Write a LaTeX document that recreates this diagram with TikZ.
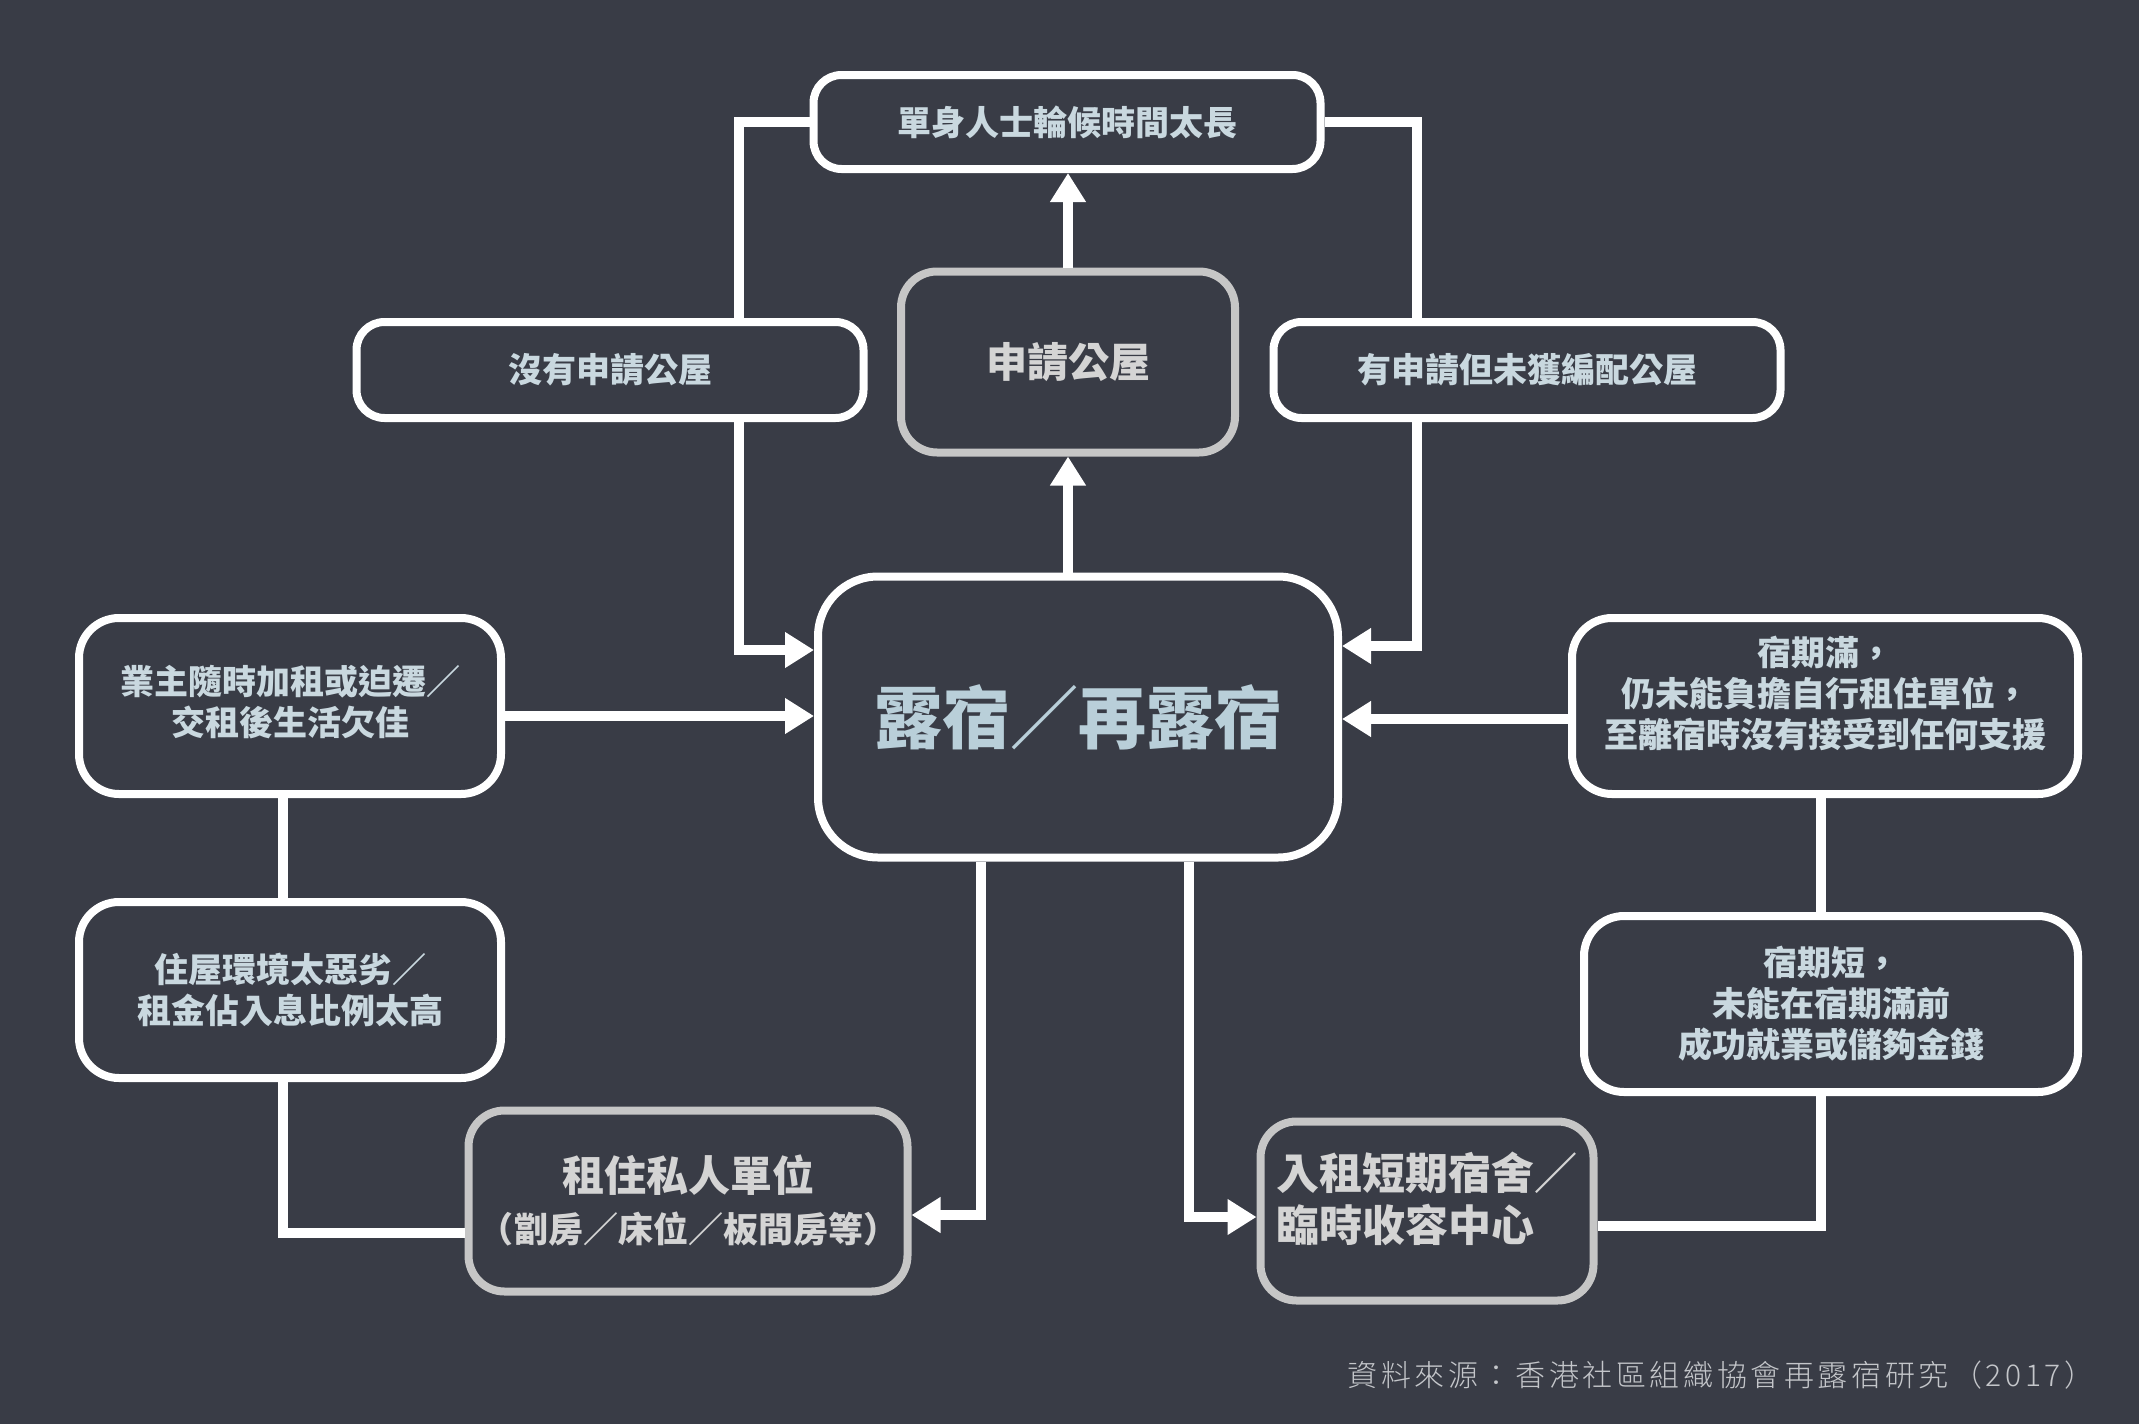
\documentclass[tikz,border=0pt]{standalone}
\usepackage{fontspec}
\newfontfamily\cjk{Noto Sans CJK TC}
\newfontfamily\cjklight{Noto Sans CJK TC Light}
\usetikzlibrary{arrows.meta}
\definecolor{bg}{HTML}{393C46}
\definecolor{txt}{HTML}{C9D8DF}
\definecolor{maintxt}{HTML}{B9CFD9}
\definecolor{grayb}{HTML}{C6C6C6}
\definecolor{gtxt}{HTML}{D4D4D4}
\definecolor{srctxt}{HTML}{C4C6CA}
\begin{document}
\begin{tikzpicture}[x=1pt,y=-1pt,
  box/.style={draw=white, line width=8pt, fill=bg, text=txt, rounded corners=28pt,
    inner sep=0pt, outer sep=4pt, align=center, font=\cjk\bfseries\fontsize{34}{41}\selectfont},
  bigbox/.style={box, rounded corners=40pt},
  gbox/.style={box, draw=grayb, text=gtxt, rounded corners=36pt},
  conn/.style={draw=white, line width=10pt, line join=miter},
  arr/.style={conn, -{Triangle[length=29pt,width=34pt]}}]
\useasboundingbox[fill=bg] (0,0) rectangle (2139,1424);

% nodes
\node[box, minimum width=507pt, minimum height=94pt] (single) at (1067,122) {單身人士輪候時間太長};
\node[gbox, minimum width=334pt, minimum height=181pt, font=\cjk\bfseries\fontsize{41}{49}\selectfont] (apply) at (1068,362) {申請公屋};
\node[box, minimum width=507pt, minimum height=96pt] (noapp) at (610,370) {沒有申請公屋};
\node[box, minimum width=507pt, minimum height=96pt] (hasapp) at (1527,370) {有申請但未獲編配公屋};
\node[box, rounded corners=60pt, minimum width=520pt, minimum height=281pt, text=maintxt,
  font=\cjk\bfseries\fontsize{68}{80}\selectfont] (main) at (1078,717) {露宿／再露宿};
\node[bigbox, minimum width=422pt, minimum height=176pt] (landlord) at (290,706) {業主隨時加租或迫遷／\\交租後生活欠佳\\[-30pt]};
\node[bigbox, minimum width=422pt, minimum height=176pt] (env) at (290,990) {住屋環境太惡劣／\\租金佔入息比例太高};
\node[gbox, minimum width=439pt, minimum height=181pt] (priv) at (688,1201)
  {{\fontsize{42}{50}\selectfont 租住私人單位}\\[10pt]{\fontsize{35}{42}\selectfont（劏房／床位／板間房等）}};
\node[bigbox, minimum width=506pt, minimum height=176pt] (expire) at (1825,706)
  {宿期滿，\\仍未能負擔自行租住單位，\\至離宿時沒有接受到任何支援\\[-12pt]};
\node[bigbox, minimum width=494pt, minimum height=176pt] (short) at (1831,1004)
  {宿期短，\\未能在宿期滿前\\成功就業或儲夠金錢};
\node[gbox, minimum width=333pt, minimum height=179pt, align=left,
  font=\cjk\bfseries\fontsize{43}{52}\selectfont] (hostel) at (1427,1211)
  {入租短期宿舍／\\臨時收容中心\\[-24pt]};
\node[text=srctxt, font=\cjklight\fontsize{30}{36}\selectfont\addfontfeature{LetterSpace=12}, inner sep=0pt]
  (src) at (1721,1375) {資料來源：香港社區組織協會再露宿研究（2017）};

% connectors
\draw[arr] (main.north -| apply.south) -- (apply.south);
\draw[arr] (apply.north) -- (apply.north |- single.south);
\draw[conn] (single.west) -| (739,0 |- noapp.north);
\draw[arr] (739,0 |- noapp.south) |- (main.west |- 0,650);
\draw[conn] (single.east) -| (1417,0 |- hasapp.north);
\draw[arr] (1417,0 |- hasapp.south) |- (main.east |- 0,646);
\draw[arr] (landlord.east |- 0,716) -- (main.west |- 0,716);
\draw[arr] (expire.west |- 0,719) -- (main.east |- 0,719);
\draw[conn] (283,0 |- landlord.south) -- (283,0 |- env.north);
\draw[conn] (283,0 |- env.south) |- (priv.west |- 0,1233);
\draw[arr] (981,0 |- main.south) |- (priv.east |- 0,1215);
\draw[arr] (1189,0 |- main.south) |- (hostel.west |- 0,1217);
\draw[conn] (1821,0 |- expire.south) -- (1821,0 |- short.north);
\draw[conn] (1821,0 |- short.south) |- (hostel.east |- 0,1226);
\end{tikzpicture}
\end{document}
